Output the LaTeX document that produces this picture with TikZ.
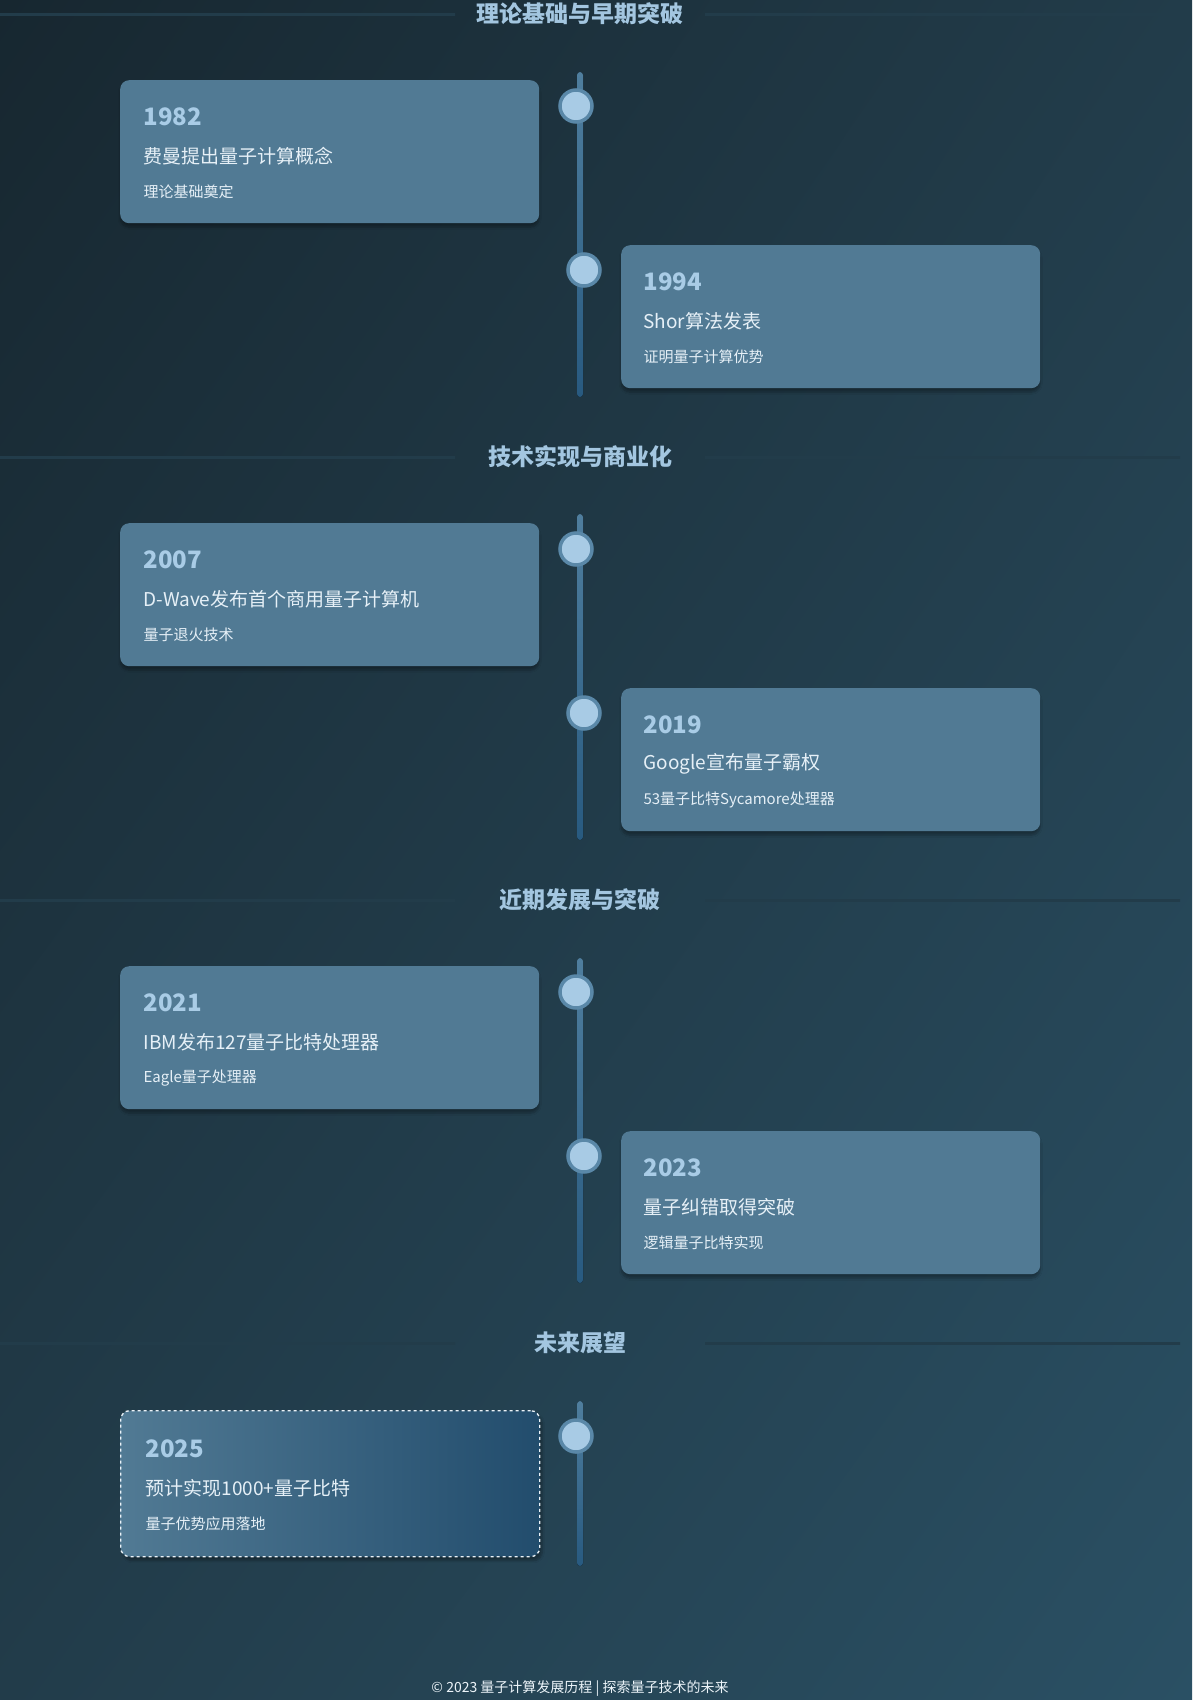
\documentclass[tikz,border=0pt]{standalone}
\usepackage{fontspec}
\setmainfont{Noto Sans CJK SC}
\usetikzlibrary{shadows.blur,shadings}
\definecolor{bgA}{HTML}{172730}
\definecolor{bgB}{HTML}{2A5064}
\definecolor{bgM}{HTML}{223C4A}
\definecolor{cardc}{HTML}{517A94}
\definecolor{yearc}{HTML}{A9CCE6}
\definecolor{txtc}{HTML}{E6F0F7}
\definecolor{dotf}{HTML}{A8CBE5}
\definecolor{dotb}{HTML}{5A88A8}
\definecolor{lineA}{HTML}{4F7E9E}
\definecolor{lineB}{HTML}{285A80}
\definecolor{secc}{HTML}{A3C6E0}
\tikzset{
 card/.style={fill=cardc,rounded corners=9pt,minimum width=419pt,minimum height=143pt,anchor=north west,blur shadow={shadow blur steps=8,shadow xshift=0pt,shadow yshift=-4pt,shadow opacity=30}},
 futcard/.style={rounded corners=9pt,minimum width=419pt,minimum height=146pt,anchor=north west,left color=cardc,right color=lineB!85!black,draw=txtc!80,dashed,line width=1.3pt,blur shadow={shadow blur steps=8,shadow yshift=-4pt,shadow opacity=30}},
 yeartxt/.style={anchor=west,text=yearc,font=\bfseries\fontsize{24}{28}\selectfont},
 ttltxt/.style={anchor=west,text=txtc,font=\fontsize{19}{23}\selectfont},
 subtxt/.style={anchor=west,text=txtc,font=\fontsize{15}{18}\selectfont},
 dot/.style={circle,fill=dotf,draw=dotb,line width=3.5pt,minimum size=32pt,inner sep=0pt},
 sectxt/.style={text=secc,font=\bfseries\fontsize{23}{27}\selectfont},
}
\begin{document}
\begin{tikzpicture}[x=1pt,y=-1pt]
\useasboundingbox (0,0) rectangle (1192,1700);
\shade[upper left=bgA,lower right=bgB,upper right=bgM,lower left=bgM] (0,0) rectangle (1192,1700);
% sections
\foreach \yy/\tt/\nm in {14/理论基础与早期突破/s1,457/技术实现与商业化/s2,900/近期发展与突破/s3,1343/未来展望/s4}{
 \node[sectxt] (\nm) at (580,\yy) {\tt};
 \shade[left color=bgM,middle color=lineA,right color=bgM] (0,\yy-1) rectangle (455,\yy+1);
 \shade[left color=bgM,middle color=lineA,right color=bgM] (705,\yy-1) rectangle (1180,\yy+1);
}
% timelines
\foreach \a/\b in {72/397,514/840,958/1283,1401/1566}{
 \fill[top color=lineA,bottom color=lineB,rounded corners=3pt] (577,\a) rectangle (583,\b);
}
% cards
\newcommand{\leftcard}[5]{%
 \node[card] (#1) at (120,#2) {};
 \node[yeartxt] (#1y) at (140,#2+37) {#3};
 \node[ttltxt] (#1t) at (140,#2+76) {#4};
 \node[subtxt] (#1s) at (140,#2+112) {#5};
 \node[dot] (#1d) at (576,#2+26) {};}
\newcommand{\rightcard}[5]{%
 \node[card] (#1) at (621,#2) {};
 \node[yeartxt] (#1y) at (640,#2+37) {#3};
 \node[ttltxt] (#1t) at (640,#2+76) {#4};
 \node[subtxt] (#1s) at (640,#2+112) {#5};
 \node[dot] (#1d) at (584,#2+25) {};}
\leftcard{c1}{80}{1982}{费曼提出量子计算概念}{理论基础奠定}
\rightcard{c2}{245}{1994}{Shor算法发表}{证明量子计算优势}
\leftcard{c3}{523}{2007}{D-Wave发布首个商用量子计算机}{量子退火技术}
\rightcard{c4}{688}{2019}{Google宣布量子霸权}{53量子比特Sycamore处理器}
\leftcard{c5}{966}{2021}{IBM发布127量子比特处理器}{Eagle量子处理器}
\rightcard{c6}{1131}{2023}{量子纠错取得突破}{逻辑量子比特实现}
\node[futcard] (c7) at (120,1410) {};
\node[yeartxt] (c7y) at (142,1449) {2025};
\node[ttltxt] (c7t) at (142,1488) {预计实现1000+量子比特};
\node[subtxt] (c7s) at (142,1524) {量子优势应用落地};
\node[dot] (c7d) at (576,1436) {};
\node[text=txtc!75,font=\fontsize{14}{17}\selectfont] (foot) at (580,1689) {© 2023 量子计算发展历程 | 探索量子技术的未来};
\end{tikzpicture}
\end{document}
